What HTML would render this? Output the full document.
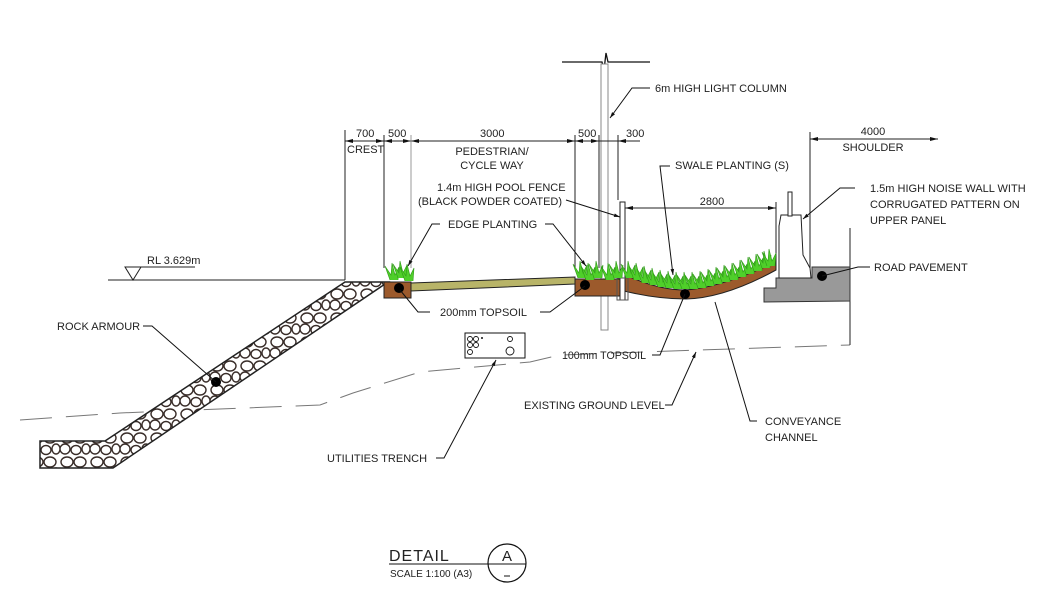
<!DOCTYPE html>
<html><head><meta charset="utf-8"><style>
html,body{margin:0;padding:0;background:#fff}
svg{display:block}
text{font-family:"Liberation Sans",sans-serif;font-size:11px;fill:#222}
</style></head><body>
<svg width="1040" height="600" viewBox="0 0 1040 600" xmlns="http://www.w3.org/2000/svg">
<defs>
<pattern id="rock" width="30" height="24" patternUnits="userSpaceOnUse">
<rect width="30" height="24" fill="#fff"/>
<g fill="none" stroke="#3a2e2a" stroke-width="1.4">
<ellipse cx="7" cy="6" rx="6" ry="5"/><ellipse cx="20" cy="6" rx="6" ry="5"/>
<ellipse cx="5" cy="17" rx="5" ry="5"/><ellipse cx="16" cy="18" rx="5" ry="4.5"/>
<ellipse cx="26" cy="17" rx="4" ry="5"/>
</g></pattern>
<marker id="ar" viewBox="0 0 10 10" refX="10" refY="5" markerWidth="8" markerHeight="6" orient="auto"><path d="M0,2 L10,5 L0,8z" fill="#111"/></marker>
<g id="tuft"><path d="M0,14 L-5,0 L1,9 L2,-3 L5,9 L9,1 L8,14" fill="#4fcf2a" stroke="#2f9a18" stroke-width="0.6"/></g>
</defs>

<!-- light column -->
<polyline points="562,62 602,62 604,70 606,53 608,62 650,62" fill="none" stroke="#111" stroke-width="1.3"/>
<rect x="601" y="64" width="7" height="266" fill="#fff" stroke="#888" stroke-width="1"/>
<polyline points="650,88 632,88 610,118" fill="none" stroke="#111" marker-end="url(#ar)"/>
<text x="655" y="92">6m HIGH LIGHT COLUMN</text>

<!-- dimension lines -->
<g stroke="#222" stroke-width="1" fill="none">
<line x1="345" y1="141" x2="640" y2="141"/>
<line x1="345" y1="130" x2="345" y2="280"/>
<line x1="384" y1="135" x2="384" y2="268"/>
<line x1="411" y1="135" x2="411" y2="268" stroke="#999"/>
<line x1="575" y1="135" x2="575" y2="268"/>
<line x1="599" y1="135" x2="599" y2="268"/>
<line x1="618" y1="135" x2="618" y2="200"/>
<line x1="810" y1="139" x2="938" y2="139"/>
<line x1="810" y1="132" x2="810" y2="275"/>
<line x1="625" y1="208" x2="776" y2="208"/>
<line x1="776" y1="202" x2="776" y2="265"/>
</g>
<g fill="#111">
<path d="M345,141 l8,-2 v4z M384,141 l-8,-2 v4z M384,141 l8,-2 v4z M411,141 l-8,-2 v4z M411,141 l8,-2 v4z M575,141 l-8,-2 v4z M575,141 l8,-2 v4z M599,141 l-8,-2 v4z M618,141 l8,-2 v4z M810,139 l8,-2 v4z M938,139 l-8,-2 v4z M625,208 l8,-2 v4z M776,208 l-8,-2 v4z"/>
</g>
<text x="356" y="137">700</text><text x="388" y="137">500</text>
<text x="480" y="137">3000</text><text x="578" y="137">500</text><text x="626" y="137">300</text>
<text x="347" y="153">CREST</text>
<text x="492" y="155" text-anchor="middle">PEDESTRIAN/</text>
<text x="492" y="169" text-anchor="middle">CYCLE WAY</text>
<text x="873" y="135" text-anchor="middle">4000</text>
<text x="873" y="151" text-anchor="middle">SHOULDER</text>
<text x="712" y="205" text-anchor="middle">2800</text>

<!-- RL -->
<line x1="108" y1="280" x2="345" y2="280" stroke="#222"/>
<path d="M125,267 L141,267 L133,280z" fill="none" stroke="#222"/>
<line x1="141" y1="267" x2="195" y2="267" stroke="#222"/>
<text x="147" y="264">RL 3.629m</text>

<!-- existing ground dashed -->
<polyline points="20,420 120,413 320,405 353,393 420,372 530,362 560,355 700,350 850,345" fill="none" stroke="#777" stroke-width="1" stroke-dasharray="32,14"/>

<!-- rock armour -->
<polygon points="40,441 105,441 345,282 388,282 113,468 40,468" fill="url(#rock)" stroke="#222" stroke-width="1.5"/>

<!-- pavement -->
<line x1="850" y1="228" x2="850" y2="345" stroke="#222"/>
<polygon points="776,278 812,278 812,267 850,267 850,301 764,302 764,288 776,288" fill="#999" stroke="#333"/>

<!-- noise wall -->
<path d="M779,278 L779,226 L781,215 L801,215 L803,255 L810,268 L811,278z" fill="#fff" stroke="#222"/>
<rect x="788" y="192" width="4" height="24" fill="#fff" stroke="#222"/>

<!-- pedestrian way -->
<polygon points="411,283 575,277 575,284 411,291" fill="#b8b468" stroke="#222"/>
<rect x="384" y="282" width="27" height="16" fill="#9c5a2c" stroke="#222"/>
<rect x="575" y="279" width="45" height="17" fill="#9c5a2c" stroke="#222"/>
<path d="M620,279 L630,277 Q660,290 685,290 Q720,288 776,262 L776,270 Q725,298 686,299 Q655,299 620,290z" fill="#9c5a2c" stroke="#222"/>
<!-- fence -->
<rect x="620" y="202" width="5" height="98" fill="#fff" stroke="#222"/>
<rect x="617" y="278" width="11" height="22" fill="none" stroke="#555"/>

<!-- grass -->
<g>
<use href="#tuft" x="390" y="266"/><use href="#tuft" x="398" y="264"/><use href="#tuft" x="405" y="267"/>
<use href="#tuft" x="578" y="264"/><use href="#tuft" x="586" y="266"/><use href="#tuft" x="594" y="264"/><use href="#tuft" x="606" y="266"/><use href="#tuft" x="614" y="264"/>
<use href="#tuft" x="626" y="264"/><use href="#tuft" x="634" y="266"/><use href="#tuft" x="642" y="269"/><use href="#tuft" x="650" y="271"/><use href="#tuft" x="658" y="273"/><use href="#tuft" x="666" y="274"/><use href="#tuft" x="674" y="275"/><use href="#tuft" x="682" y="275"/><use href="#tuft" x="690" y="275"/><use href="#tuft" x="698" y="274"/><use href="#tuft" x="706" y="272"/><use href="#tuft" x="714" y="270"/><use href="#tuft" x="722" y="268"/><use href="#tuft" x="730" y="266"/><use href="#tuft" x="738" y="263"/><use href="#tuft" x="746" y="260"/><use href="#tuft" x="754" y="257"/><use href="#tuft" x="762" y="254"/><use href="#tuft" x="767" y="252"/>
</g>

<!-- dots -->
<g fill="#000"><circle cx="399" cy="288" r="5"/><circle cx="585" cy="285" r="5"/><circle cx="685" cy="294" r="5"/><circle cx="216" cy="382" r="5"/><circle cx="822" cy="276" r="5"/></g>

<!-- leaders -->
<g fill="none" stroke="#111" stroke-width="1">
<polyline points="143,326 152,326 216,382"/>
<polyline points="440,224 432,224 408,266" marker-end="url(#ar)"/>
<polyline points="545,224 553,224 586,266" marker-end="url(#ar)"/>
<polyline points="430,312 418,312 400,290"/>
<polyline points="540,312 550,312 585,286"/>
<polyline points="566,200 620,217" marker-end="url(#ar)"/>
<polyline points="670,166 660,166 673,275" marker-end="url(#ar)"/>
<polyline points="855,188 840,188 803,219" marker-end="url(#ar)"/>
<polyline points="870,267 858,267 822,276"/>
<polyline points="652,355 660,355 685,294"/>
<polyline points="665,405 672,405 696,352" marker-end="url(#ar)"/>
<polyline points="757,421 750,421 715,302"/>
<polyline points="436,458 444,458 496,360" marker-end="url(#ar)"/>
</g>
<text x="57" y="330">ROCK ARMOUR</text>
<text x="448" y="228">EDGE PLANTING</text>
<text x="440" y="316">200mm TOPSOIL</text>
<text x="437" y="191">1.4m HIGH POOL FENCE</text>
<text x="418" y="205">(BLACK POWDER COATED)</text>
<text x="675" y="169">SWALE PLANTING (S)</text>
<text x="870" y="192">1.5m HIGH NOISE WALL WITH</text>
<text x="870" y="208">CORRUGATED PATTERN ON</text>
<text x="870" y="224">UPPER PANEL</text>
<text x="874" y="271">ROAD PAVEMENT</text>
<text x="562" y="359" textLength="84" lengthAdjust="spacingAndGlyphs">100mm TOPSOIL</text>
<text x="524" y="409">EXISTING GROUND LEVEL</text>
<text x="765" y="425">CONVEYANCE</text>
<text x="765" y="441">CHANNEL</text>
<text x="327" y="462">UTILITIES TRENCH</text>

<!-- utilities trench -->
<rect x="465" y="333" width="60" height="25" fill="#fff" stroke="#111"/>
<g fill="none" stroke="#111" stroke-width="0.9">
<circle cx="470" cy="339" r="2.5"/><circle cx="476" cy="339" r="2.5"/><circle cx="470" cy="345" r="2.5"/><circle cx="476" cy="345" r="2.5"/><circle cx="470" cy="352" r="2.5"/>
<circle cx="510" cy="339" r="2.5"/><circle cx="510" cy="351" r="4"/>
</g>
<circle cx="482" cy="338" r="1" fill="#111"/>

<!-- title -->
<text x="389" y="561" style="font-size:16px;letter-spacing:1px">DETAIL</text>
<line x1="389" y1="564" x2="526" y2="564" stroke="#111"/>
<text x="390" y="577" style="font-size:10px">SCALE 1:100 (A3)</text>
<circle cx="507" cy="563" r="19" fill="none" stroke="#111" stroke-width="1.2"/>
<text x="507" y="561" text-anchor="middle" style="font-size:15px">A</text>
<line x1="504" y1="576" x2="510" y2="576" stroke="#111"/>
</svg>
</body></html>
